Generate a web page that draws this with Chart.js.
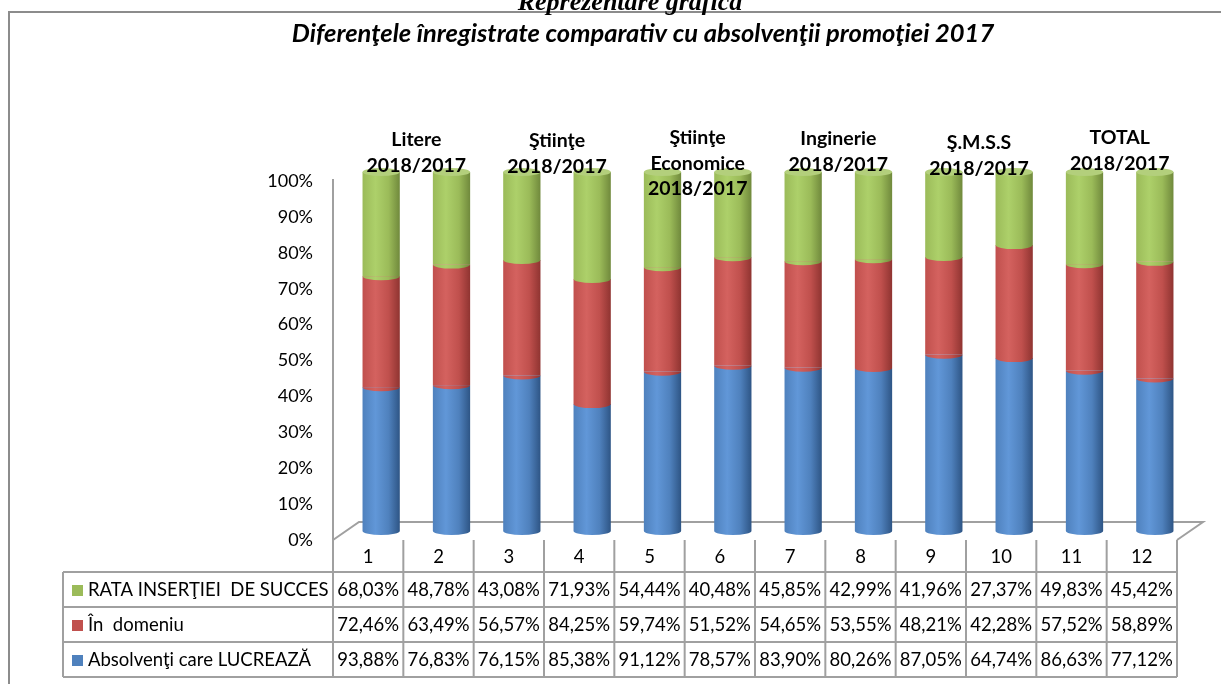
<!DOCTYPE html>
<html>
<head>
<meta charset="utf-8">
<script src="https://cdn.jsdelivr.net/npm/chart.js@4.4.0/dist/chart.umd.min.js"></script>
<style>
  html, body { margin: 0; padding: 0; background: #fff; }
  canvas { display: block; }
</style>
</head>
<body>
<canvas id="chart" width="1221" height="684"></canvas>
<script>
// ── Data ──────────────────────────────────────────────────────────────────────
const categories = ['1', '2', '3', '4', '5', '6', '7', '8', '9', '10', '11', '12'];
const groupLabels = [
    ['Litere', '2018/2017'],
    ['Ştiinţe', '2018/2017'],
    ['Ştiinţe', 'Economice', '2018/2017'],
    ['Inginerie', '2018/2017'],
    ['Ş.M.S.S', '2018/2017'],
    ['TOTAL', '2018/2017']
];
const seriesNames = ['Absolvenţi care LUCREAZĂ', 'În  domeniu', 'RATA INSERŢIEI  DE SUCCES'];
const lucreaza = [93.88, 76.83, 76.15, 85.38, 91.12, 78.57, 83.90, 80.26, 87.05, 64.74, 86.63, 77.12];
const domeniu  = [72.46, 63.49, 56.57, 84.25, 59.74, 51.52, 54.65, 53.55, 48.21, 42.28, 57.52, 58.89];
const rata     = [68.03, 48.78, 43.08, 71.93, 54.44, 40.48, 45.85, 42.99, 41.96, 27.37, 49.83, 45.42];

const titleText = 'Diferenţele înregistrate comparativ cu absolvenţii promoţiei 2017';
const pageHeading = 'Reprezentare grafică';

// ── Styling ───────────────────────────────────────────────────────────────────
const FONT = 'Lato, "Open Sans", sans-serif';
const GRID = '#a0a0a0';
const BAR_PCT = 0.53;
const DEPTH = { x: 26, y: -18 };   // 3D floor depth (front -> back)
const colors = [
    { base: '#4f81bd', light: '#6197d8', dark: '#2e5585', cap: '#6a9bd6' },
    { base: '#c0504d', light: '#d4625f', dark: '#8f3431', cap: '#d46e6b' },
    { base: '#9bbb59', light: '#add06a', dark: '#70893c', cap: '#b3cf7c' }
];

// 100% stacked: share of each series in the column
const totals = categories.map((_, i) => lucreaza[i] + domeniu[i] + rata[i]);
const share = arr => arr.map((v, i) => v / totals[i] * 100);
const rawSeries = [lucreaza, domeniu, rata];
const fmt = v => v.toFixed(2).replace('.', ',') + '%';

function cylinderFill(c) {
    const col = colors[c.datasetIndex];
    const chart = c.chart;
    if (!chart.chartArea || !chart.scales.x) return col.base;
    const x = chart.scales.x.getPixelForValue(c.dataIndex);
    const hw = chart.chartArea.width / categories.length * BAR_PCT / 2;
    const g = chart.ctx.createLinearGradient(x - hw, 0, x + hw, 0);
    g.addColorStop(0, col.base);
    g.addColorStop(0.35, col.light);
    g.addColorStop(0.7, col.base);
    g.addColorStop(1, col.dark);
    return g;
}

// ── 3D floor + axis line ──────────────────────────────────────────────────────
const floorPlugin = {
    id: 'floor',
    beforeDatasetsDraw(chart) {
        const { ctx, chartArea: a, scales: { y } } = chart;
        const fl = a.left - DEPTH.x / 2, fr = a.right - DEPTH.x / 2;
        const fy = y.getPixelForValue(0) - DEPTH.y / 2;
        ctx.save();
        ctx.strokeStyle = GRID;
        ctx.lineWidth = 2;
        ctx.beginPath();
        ctx.moveTo(fl, fy);
        ctx.lineTo(fl + DEPTH.x, fy + DEPTH.y);
        ctx.lineTo(fr + DEPTH.x, fy + DEPTH.y);
        ctx.lineTo(fr, fy);
        ctx.stroke();
        // vertical axis (front-left edge)
        ctx.beginPath();
        ctx.moveTo(fl, fy);
        ctx.lineTo(fl, y.getPixelForValue(100) - DEPTH.y / 2 - 2);
        ctx.stroke();
        ctx.restore();
    },
    afterDatasetsDraw(chart) {
        const ctx = chart.ctx;
        ctx.save();
        chart.data.datasets.forEach((ds, di) => {
            const meta = chart.getDatasetMeta(di);
            meta.data.forEach((el, i) => {
                const rx = el.width / 2, ry = 4;
                // front arc under the segment (curved joint)
                ctx.fillStyle = cylinderFill({ chart, datasetIndex: di, dataIndex: i });
                ctx.beginPath();
                ctx.ellipse(el.x, el.base, rx, ry, 0, 0, Math.PI);
                ctx.fill();
                if (di === chart.data.datasets.length - 1) {
                    ctx.fillStyle = colors[di].cap;
                    ctx.beginPath();
                    ctx.ellipse(el.x, el.y, rx, ry, 0, 0, Math.PI * 2);
                    ctx.fill();
                }
            });
        });
        ctx.restore();
    }
};

// ── Titles, group labels, data table, frame ──────────────────────────────────
const decorPlugin = {
    id: 'decor',
    afterDraw(chart) {
        const { ctx, chartArea: a, scales: { x, y } } = chart;
        ctx.save();

        // outer frame
        ctx.strokeStyle = '#8c8c8c';
        ctx.lineWidth = 2;
        ctx.beginPath();
        ctx.moveTo(9, 700);
        ctx.lineTo(9, 12);
        ctx.lineTo(1240, 12);
        ctx.stroke();

        // page heading, cut at the top
        ctx.fillStyle = '#000';
        ctx.textAlign = 'center';
        ctx.textBaseline = 'alphabetic';
        ctx.font = 'italic bold 26px "Liberation Serif", serif';
        ctx.fillText(pageHeading, 630, 10);

        // chart title
        ctx.font = 'italic bold 25.5px ' + FONT;
        ctx.fillText(titleText, 643, 42);

        // group labels over each pair of columns
        const firstBase = [146, 147, 144, 145, 149, 144];
        ctx.font = 'bold 19.5px ' + FONT;
        groupLabels.forEach((lines, k) => {
            const cx = (x.getPixelForValue(2 * k) + x.getPixelForValue(2 * k + 1)) / 2;
            lines.forEach((t, j) => ctx.fillText(t, cx, firstBase[k] + j * 25.5));
        });

        // data table
        const cw = a.width / categories.length;
        const left = a.left - DEPTH.x / 2;
        const top = y.getPixelForValue(0) - DEPTH.y / 2;
        const headH = 32, rowH = 35, legLeft = 63;
        const right = left + cw * categories.length;
        const bottom = top + headH + rowH * 3;

        ctx.strokeStyle = GRID;
        ctx.lineWidth = 2;
        ctx.beginPath();
        for (let i = 0; i <= categories.length; i++) {
            ctx.moveTo(left + i * cw, top);
            ctx.lineTo(left + i * cw, bottom);
        }
        ctx.moveTo(legLeft, top + headH);
        ctx.lineTo(legLeft, bottom);
        for (let r = 0; r <= 3; r++) {
            ctx.moveTo(legLeft, top + headH + r * rowH);
            ctx.lineTo(right, top + headH + r * rowH);
        }
        ctx.stroke();

        ctx.font = '18.5px ' + FONT;
        ctx.textBaseline = 'middle';
        ctx.fillStyle = '#000';
        categories.forEach((c, i) => ctx.fillText(c, left + (i + 0.5) * cw, top + headH / 2 + 1));

        // rows: top row is the last series
        for (let r = 0; r < 3; r++) {
            const si = 2 - r;
            const cy = top + headH + (r + 0.5) * rowH + 1;
            ctx.fillStyle = colors[si].base;
            ctx.fillRect(72, cy - 5.5, 11, 11);
            ctx.fillStyle = '#000';
            ctx.textAlign = 'left';
            ctx.fillText(seriesNames[si], 88, cy);
            ctx.textAlign = 'center';
            rawSeries[si].forEach((v, i) => ctx.fillText(fmt(v), left + (i + 0.5) * cw, cy));
        }
        ctx.restore();
    }
};

new Chart(document.getElementById('chart'), {
    type: 'bar',
    data: {
        labels: categories,
        datasets: rawSeries.map((arr, i) => ({
            label: seriesNames[i],
            data: share(arr),
            backgroundColor: cylinderFill,
            borderWidth: 0,
            barPercentage: BAR_PCT,
            categoryPercentage: 1
        }))
    },
    options: {
        responsive: false,
        animation: false,
        devicePixelRatio: 1,
        layout: { padding: { left: 0, right: 31, top: 172, bottom: 153 } },
        plugins: {
            legend: { display: false },
            title: { display: false },
            tooltip: { enabled: false }
        },
        scales: {
            x: { stacked: true, display: false },
            y: {
                stacked: true,
                min: 0,
                max: 100,
                afterFit: s => { s.width = 346; },
                grid: { display: false, drawTicks: false },
                border: { display: false },
                ticks: {
                    stepSize: 10,
                    padding: 33,
                    labelOffset: 9,
                    color: '#000',
                    font: { family: FONT, size: 18 },
                    callback: v => v + '%'
                }
            }
        }
    },
    plugins: [floorPlugin, decorPlugin]
});
</script>
</body>
</html>
